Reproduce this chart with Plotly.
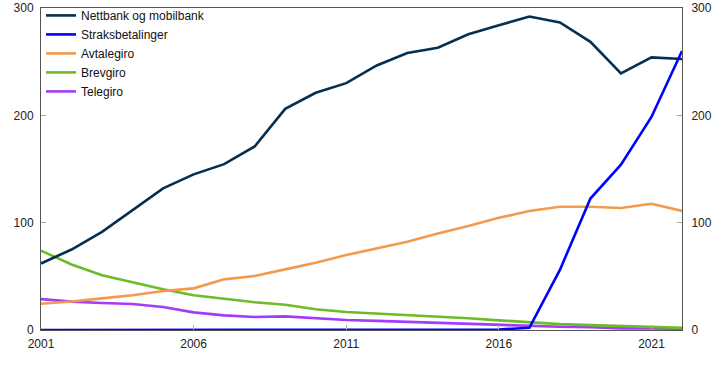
import plotly.graph_objects as go

years = list(range(2001, 2023))
nettbank = [62, 75, 91.5, 112, 132, 145, 154.5, 171, 206, 221, 230, 246.5, 258, 263, 275.5, 284,
            292, 286.5, 268.5, 239, 254, 252.5]
straks = [0, 0, 0, 0, 0, 0, 0, 0, 0, 0, 0, 0, 0, 0, 0, 0.5, 2, 56, 122.5, 154, 198.5, 260]
avtalegiro = [24.5, 26.5, 29.5, 32.3, 36.3, 38.8, 47.2, 50.3, 56.5, 62.7, 69.8, 76, 82.2, 90, 96.8,
              104.5, 110.8, 114.8, 114.8, 113.6, 117.6, 111]
brevgiro = [74, 61, 51, 44.4, 37.9, 32.3, 28.9, 25.8, 23.6, 19.3, 16.8, 15.5, 14, 12.5, 11, 9,
            7, 5.5, 4.5, 3.5, 3, 2]
telegiro = [28.8, 26.4, 25.1, 24.2, 21.4, 16.4, 13.6, 12.1, 12.7, 10.9, 9.3, 8.5, 7.5, 6.5, 5.5,
            4.5, 3.8, 3, 2.5, 1.5, 1.5, 1]

names = ["Nettbank og mobilbank", "Straksbetalinger", "Avtalegiro", "Brevgiro", "Telegiro"]
series = [nettbank, straks, avtalegiro, brevgiro, telegiro]
colors = ["#062f4f", "#0000ff", "#f39a4c", "#6cbb27", "#a23cfa"]

x_ticks = [2001, 2006, 2011, 2016, 2021]
y_ticks = [0, 100, 200, 300]

fig = go.Figure()
order = [4, 3, 2, 0, 1]  # drawing order: navy and blue lines on top
for i in order:
    fig.add_trace(go.Scatter(x=years, y=series[i], name=names[i], mode="lines",
                             line=dict(color=colors[i], width=2.6), legendrank=i + 1))

# invisible trace to activate right axis
fig.add_trace(go.Scatter(x=years, y=nettbank, yaxis="y2", mode="lines",
                         line=dict(color="rgba(0,0,0,0)"), showlegend=False, hoverinfo="skip"))

axis_font = dict(family="Liberation Sans, Arial, sans-serif", size=12, color="#222222")
fig.update_layout(
    width=722, height=366,
    margin=dict(l=41, r=40, t=8, b=36, autoexpand=False),
    paper_bgcolor="white", plot_bgcolor="white",
    font=axis_font,
    showlegend=True,
    legend=dict(x=0.0, y=1.022, xanchor="left", yanchor="top", bgcolor="rgba(0,0,0,0)",
                font=dict(family="Liberation Sans, Arial, sans-serif", size=12, color="#111111"),
                tracegroupgap=0, itemwidth=30, traceorder="normal"),
    xaxis=dict(range=[2001, 2022], tickvals=x_ticks, ticktext=[str(v) for v in x_ticks],
               showgrid=False, zeroline=False, showline=True, linecolor="#555555", linewidth=1,
               mirror=True, ticks="inside", ticklen=5, tickcolor="#aaaaaa", tickfont=axis_font,
               automargin=False, ticklabelstandoff=3),
    yaxis=dict(range=[0, 300], tickvals=y_ticks, showgrid=False, zeroline=False, showline=True,
               linecolor="#555555", linewidth=1, ticks="inside", ticklen=5, tickcolor="#aaaaaa",
               tickfont=axis_font, automargin=False, ticklabelstandoff=4),
    yaxis2=dict(range=[0, 300], tickvals=y_ticks, overlaying="y", side="right", showgrid=False,
                zeroline=False, showline=True, linecolor="#555555", linewidth=1, ticks="inside",
                ticklen=5, tickcolor="#aaaaaa", tickfont=axis_font, automargin=False,
                ticklabelstandoff=6),
)

fig.write_html("out.html", config={"displayModeBar": False},
               post_script="document.body.style.margin='0';")
